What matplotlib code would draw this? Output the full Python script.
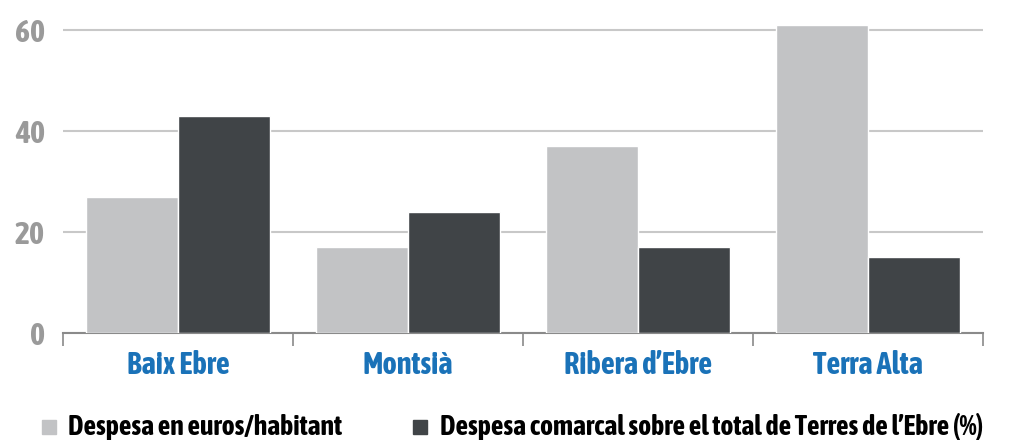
import numpy as np
import matplotlib.pyplot as plt
from matplotlib import font_manager

comarques = ["Baix Ebre", "Montsià", "Ribera d’Ebre", "Terra Alta"]
euros_habitant = [27, 17, 37, 61]
pct_total = [43, 24, 17, 15]
series_labels = ["Despesa en euros/habitant",
                 "Despesa comarcal sobre el total de Terres de l’Ebre (%)"]


def wt(f):
    w = f.weight
    return font_manager.weight_dict.get(w, w) if isinstance(w, str) else w


# condensed bold font if there is one
fonts = font_manager.fontManager.ttflist
cond = sorted({f.name for f in fonts
               if ("Narrow" in f.name or "Condensed" in f.name) and wt(f) >= 600})
if not cond:
    cond = sorted({f.name for f in fonts
                   if ("Narrow" in f.name or "Condensed" in f.name)})
plt.rcParams["font.family"] = cond[:1] + ["DejaVu Sans"]
plt.rcParams["font.stretch"] = "condensed"

light = "#c2c3c5"
dark = "#404447"
blue = "#1a72b8"
grey = "#9a9a9a"

fig = plt.figure(figsize=(10.1, 4.4), dpi=100)
ax = fig.add_axes([0.0624, 0.2432, 0.9106, 0.746])

x = np.arange(len(comarques))
w = 0.4
ax.bar(x - w / 2, euros_habitant, w, color=light, edgecolor="white", linewidth=1, zorder=3)
ax.bar(x + w / 2, pct_total, w, color=dark, edgecolor="white", linewidth=1, zorder=3)

ax.set_xlim(-0.5, len(comarques) - 0.5)
ax.set_ylim(0, 65)
ax.set_yticks([0, 20, 40, 60])
ax.yaxis.grid(True, color="#c8c8c8", linewidth=1.5, zorder=0)
ax.tick_params(axis="y", length=0, pad=13, labelsize=23, labelcolor=grey)
for t in ax.get_yticklabels():
    t.set_fontweight("bold")

ax.set_xticks(x)
ax.set_xticklabels(comarques, fontsize=22, fontweight="bold", color=blue)
ax.tick_params(axis="x", length=0, pad=12)
ax.set_xticks(np.arange(len(comarques) + 1) - 0.5, minor=True)
ax.tick_params(axis="x", which="minor", length=9, width=1.2, color="#8a8a8a")

for s in ["top", "right", "left"]:
    ax.spines[s].set_visible(False)
ax.spines["bottom"].set_color("#8a8a8a")
ax.spines["bottom"].set_linewidth(1.5)

# legend, drawn by hand
sq_x = [42, 413]
txt_x = [68, 440]
txt_end = [352, 1005]
ly = 427
renderer = fig.canvas.get_renderer()
for col, sx, tx, te, lab in zip([light, dark], sq_x, txt_x, txt_end, series_labels):
    fig.patches.append(plt.Rectangle((sx / 1010, 1 - (ly + 7) / 440), 14 / 1010, 14 / 440,
                                     color=col, transform=fig.transFigure, figure=fig))
    size = 20
    t = fig.text(tx / 1010, 1 - ly / 440, lab, fontsize=size, fontweight="bold",
                 va="center", ha="left")
    while t.get_window_extent(renderer).width > (te - tx) and size > 8:
        size -= 0.5
        t.set_fontsize(size)

fig.savefig("out.png", dpi=100)
